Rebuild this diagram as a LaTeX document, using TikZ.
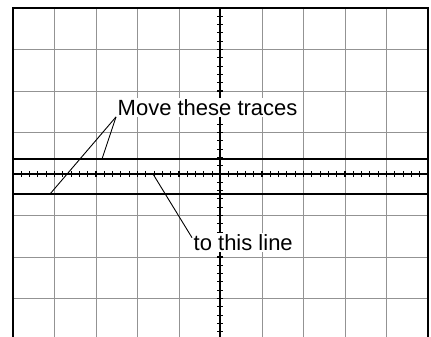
\documentclass[tikz,border=0pt]{standalone}
\usepackage{fontspec}
\setmainfont{Liberation Sans}
\begin{document}
\begin{tikzpicture}[x=1pt, y=-1pt,
    gridline/.style={gray!85, line width=1pt},
    axisline/.style={black, line width=1.1pt},
    trace/.style={black, line width=2pt},
    leader/.style={black, line width=0.9pt},
    callout/.style={fill=white, inner sep=1.5pt, font=\fontsize{22}{25}\selectfont}]
        \useasboundingbox (0,0) rectangle (431,337);
        \clip (0,0) rectangle (431,337);

        % Graticule
        \foreach \i in {1,...,9}
            \draw[gridline] (13+41.5*\i,8.5) -- (13+41.5*\i,340);
        \foreach \j in {-3,...,4}
            \draw[gridline] (13,174+41.5*\j) -- (428,174+41.5*\j);

        % Centre axes with minor ticks
        \draw[axisline] (13,174) -- (428,174);
        \draw[axisline] (220,8.5) -- (220,340);
        \foreach \k in {1,...,49}
            \draw[axisline] (13+8.3*\k,171) -- (13+8.3*\k,177);
        \foreach \k in {-19,...,19}
            \draw[axisline] (217,174+8.3*\k) -- (223,174+8.3*\k);

        % Screen frame
        \draw[black, line width=2pt] (13,340) -- (13,8.5) -- (428,8.5) -- (428,340);

        % Traces
        \draw[trace] (13,159) -- (428,159);
        \draw[trace] (13,194) -- (428,194);

        % Labels
        \node[callout, anchor=base west] (move) at (116,115) {Move these traces};
        \node[callout, anchor=base west] (target) at (192,250) {to this line};

        % Leaders
        \coordinate (upper) at (102,159);
        \coordinate (lower) at (50,194);
        \coordinate (centre) at (153,174);
        \draw[leader] (move.south west) -- (upper);
        \draw[leader] (move.south west) -- (lower);
        \draw[leader] (centre) -- (target.175);
\end{tikzpicture}
\end{document}
